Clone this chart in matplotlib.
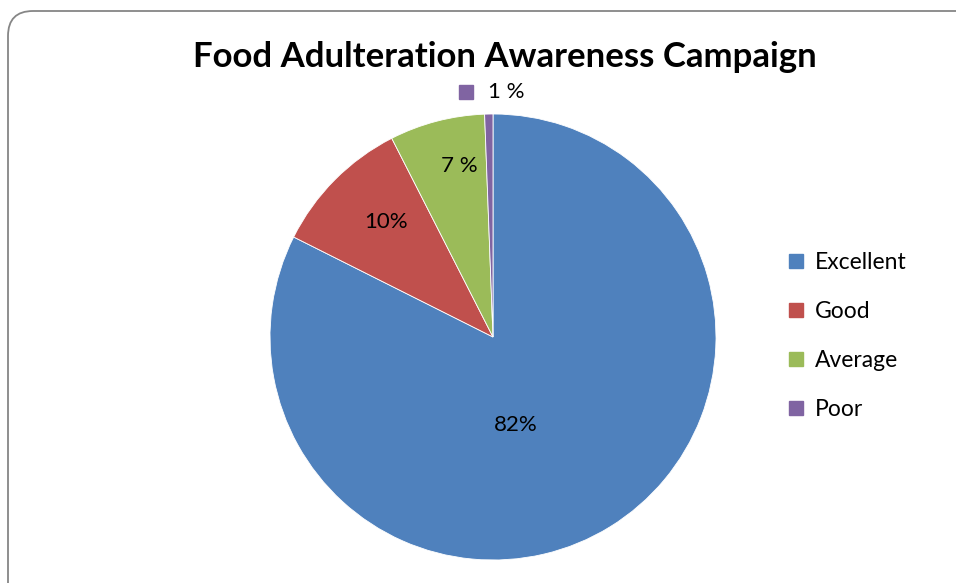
import matplotlib
matplotlib.use("Agg")
import matplotlib.pyplot as plt
from matplotlib.patches import FancyBboxPatch
from matplotlib.lines import Line2D

categories = ["Excellent", "Good", "Average", "Poor"]
values = [82.4, 10.1, 6.9, 0.6]
label_texts = ["82%", "10%", "7 %", "1 %"]
colors = ["#4F81BD", "#C0504D", "#9BBB59", "#8064A2"]
title = "Food Adulteration Awareness Campaign"

plt.rcParams['font.family'] = ['Lato', 'DejaVu Sans']

W, H = 956, 583
fig = plt.figure(figsize=(W / 100, H / 100), dpi=100)
fig.patch.set_facecolor("white")

# background frame
bg = fig.add_axes([0, 0, 1, 1])
bg.set_xlim(0, W)
bg.set_ylim(H, 0)
bg.axis("off")
bg.add_patch(FancyBboxPatch((8, 11), 1000, 620,
                            boxstyle="round,pad=0,rounding_size=25",
                            facecolor="white", edgecolor="#868686", linewidth=1.3))

# pie
cx, cy, r = 493, 337, 223
ax = fig.add_axes([(cx - r) / W, (H - cy - r) / H, 2 * r / W, 2 * r / H])
wedges, _ = ax.pie(values, colors=colors, startangle=90, counterclock=False,
                   radius=1, wedgeprops=dict(edgecolor="white", linewidth=0.6))
ax.set_xlim(-1, 1)
ax.set_ylim(-1, 1)
ax.set_aspect("equal")
ax.axis("off")

# data labels
label_pos = [(0.103, -0.395), (-0.48, 0.516), (-0.152, 0.767), (0.06, 1.099)]
for txt, (lx, ly) in zip(label_texts, label_pos):
    ax.text(lx, ly, txt, ha="center", va="center", fontsize=16, color="black", clip_on=False)
# key square for the outside label of the small slice
ax.plot([-0.121], [1.099], marker="s", markersize=10, color=colors[3],
        linestyle="none", clip_on=False)

fig.text(505 / W, 1 - 57 / H, title, ha="center", va="center",
         fontsize=25.0, fontweight="bold", color="black")

handles = [Line2D([0], [0], marker="s", linestyle="none", markersize=10,
                  markerfacecolor=c, markeredgecolor=c) for c in colors]
fig.legend(handles, categories, loc="center left",
           bbox_to_anchor=(787 / W, 1 - 336 / H), frameon=False,
           fontsize=16.5, labelspacing=1.23, handlelength=0.8,
           handletextpad=0.4, borderpad=0, borderaxespad=0)

fig.savefig("out.png", dpi=100)
